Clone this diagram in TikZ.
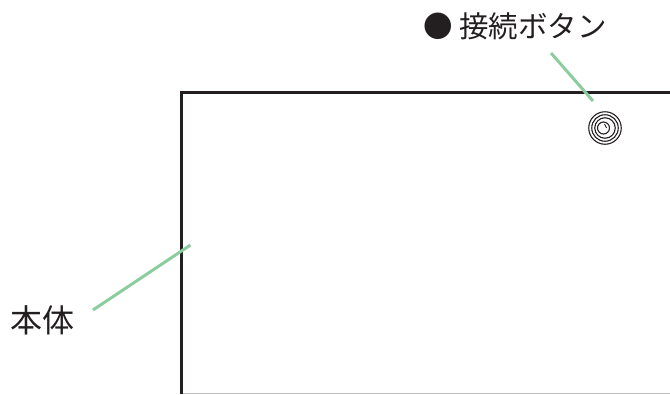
\documentclass[tikz,border=0pt]{standalone}
\usepackage{fontspec}
\setmainfont{Noto Sans CJK JP}
\definecolor{leadgreen}{RGB}{140,205,160}
\definecolor{inkblack}{RGB}{35,31,32}
\tikzset{
    casing/.style={draw=inkblack,line width=3pt},
    leader/.style={draw=leadgreen,line width=3pt},
    ring/.style={circle,draw=inkblack,line width=1.1pt,inner sep=0pt,outer sep=0pt},
    caption/.style={text=inkblack,font=\fontsize{29.5pt}{30pt}\selectfont,inner sep=0pt}
}
\begin{document}
\begin{tikzpicture}[x=1pt,y=-1pt]
    \useasboundingbox (0,0) rectangle (670,394);
    % body outline
    \draw[draw=black!25,line width=0.6pt] (181,393.7) -- (670,393.7);
    \draw[casing] (670,92) -- (181.5,92) -- (181.5,394);
    % connect button rings
    \node[ring,minimum size=32.5pt] (ringa) at (605,128) {};
    \node[ring,minimum size=26.5pt] (ringb) at (ringa.center) {};
    \node[ring,minimum size=20.5pt] (ringc) at (ringa.center) {};
    \node[ring,minimum size=12pt] (ringd) at (603.5,128) {};
    \draw[inkblack,line width=0.9pt] (ringd.center) ++(1,-4) -- ++(2,4);
    % labels
    \node[caption] (buttonlabel) at (515,26) {● 接続ボタン};
    \node[caption,font=\fontsize{32pt}{33pt}\selectfont] (bodylabel) at (42,320) {本体};
    % leaders
    \coordinate (buttonfoot) at (551,53);
    \coordinate (buttontip) at (593,101);
    \coordinate (bodyfoot) at (93,310);
    \coordinate (bodytip) at (190.5,245);
    \draw[leader] (buttonfoot) -- (buttontip);
    \draw[leader] (bodyfoot) -- (bodytip);
\end{tikzpicture}
\end{document}
